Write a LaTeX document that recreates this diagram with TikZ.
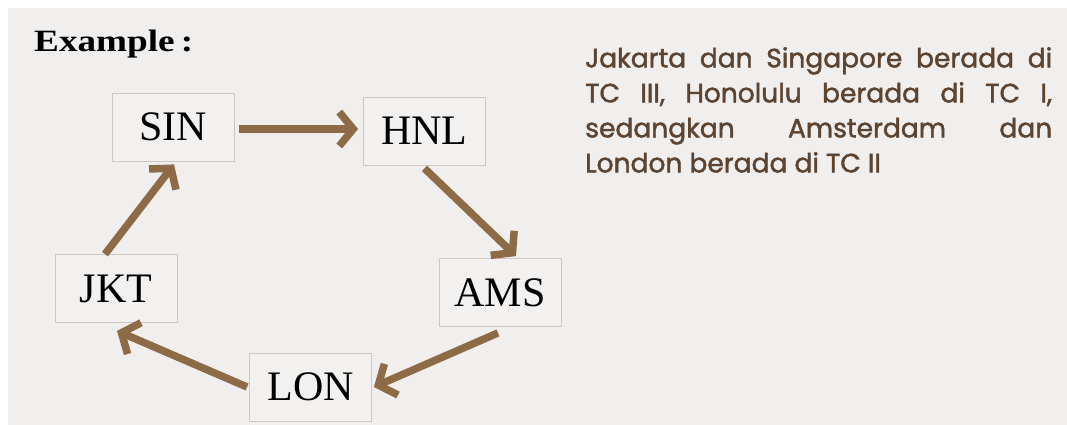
\documentclass[tikz,border=0pt]{standalone}
\usepackage{fontspec}
\setmainfont{Liberation Serif}
\newfontfamily\notefont{Poppins}[FakeBold=1.6]
\usetikzlibrary{arrows.meta}
\definecolor{bgc}{HTML}{F0EFEE}
\definecolor{boxfill}{HTML}{F3F1EF}
\definecolor{boxline}{HTML}{CFC8C2}
\definecolor{arrc}{HTML}{8E6B47}
\definecolor{notec}{HTML}{5C4430}
\tikzset{
  city/.style={draw=boxline, line width=0.8pt, fill=boxfill, minimum width=122pt, minimum height=68pt, inner sep=0pt, font=\fontsize{42}{42}\selectfont, text=black},
  arr/.style={draw=arrc, line width=7.5pt, -{Straight Barb[length=14pt,width=34pt]}},
}
\begin{document}
\begin{tikzpicture}[x=1pt,y=-1pt]
\fill[white] (0,0) rectangle (1067,425);
\fill[bgc] (8,8) rectangle (1067,425);
\useasboundingbox (0,0) rectangle (1067,425);
\node[anchor=base west, font=\fontsize{31}{31}\selectfont\bfseries, inner sep=0pt] (title) at (34,52) {\scalebox{1.2}[1]{Example\,:}};
\node[city] (sin) at (173,127) {SIN};
\node[city] (hnl) at (424.5,131) {HNL};
\node[city] (jkt) at (116,288.5) {JKT};
\node[city] (ams) at (500,292.5) {AMS};
\node[city] (lon) at (310.5,387) {LON};
\draw[arr] ([shift={(5,2)}]sin.east) -- ([shift={(-5,-2)}]hnl.west);
\draw[arr] ([shift={(0,3)}]hnl.south) -- ([shift={(16,-2)}]ams.north);
\draw[arr] ([shift={(-2,6)}]ams.south) -- ([shift={(2,0)}]lon.east);
\draw[arr] ([shift={(-2,0)}]lon.west) -- ([shift={(1,8)}]jkt.south);
\draw[arr] ([shift={(-11,0)}]jkt.north) -- ([shift={(1,3)}]sin.south);
\node[anchor=north west, inner sep=0pt, text width=467pt, align=justify, text=notec, font=\notefont\fontsize{26.5}{35}\selectfont] (note) at (585,47)
{Jakarta dan Singapore berada di\linebreak TC III, Honolulu berada di TC I,\linebreak sedangkan Amsterdam dan\linebreak London berada di TC II};
\end{tikzpicture}
\end{document}
